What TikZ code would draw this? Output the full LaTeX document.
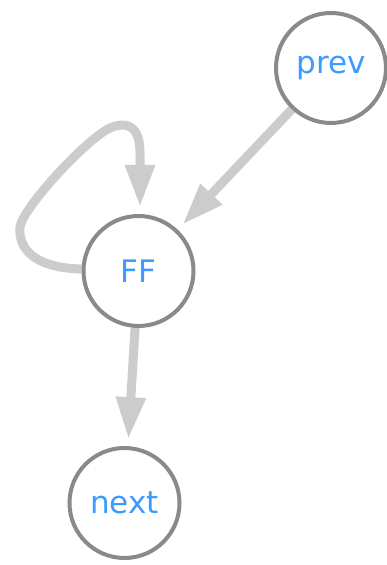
\documentclass[tikz,border=0pt]{standalone}
\usepackage{fontspec}
\setmainfont{DejaVu Sans}
\usetikzlibrary{arrows.meta,backgrounds,calc}
\definecolor{ringgray}{HTML}{8A8A8A}
\definecolor{edgegray}{HTML}{CCCCCC}
\definecolor{labelblue}{HTML}{3D9BFF}
\tikzset{
  state/.style={circle, draw=ringgray, line width=4pt, fill=white,
    minimum size=110pt, inner sep=0pt, text=labelblue,
    font=\fontsize{31}{31}\selectfont},
  link/.style={draw=edgegray, line width=9pt,
    -{Triangle[length=42pt,width=28pt]}, shorten >=7pt}
}
\begin{document}
\begin{tikzpicture}[x=1pt,y=1pt]
  \useasboundingbox (0,0) rectangle (386,565);
  \node[state] (prev) at (331,497) {prev};
  \node[state] (FF)   at (138.5,294) {FF};
  \node[state] (next) at (124.5,62) {next};
  \begin{scope}[on background layer]
    \draw[link] (prev) -- (FF);
    \draw[link] (FF) -- (next);
    % self-loop leaving the left side and re-entering from the top
    \draw[link] ($(FF.west)+(0,2)$) .. controls (35,297) and (18,316) .. (20,338)
      .. controls (22,356) and (85,425) .. (110,437)
      .. controls (131,446) and (140,434) .. (140,412)
      -- ($(FF.north)+(1.5,0)$);
  \end{scope}
\end{tikzpicture}
\end{document}
